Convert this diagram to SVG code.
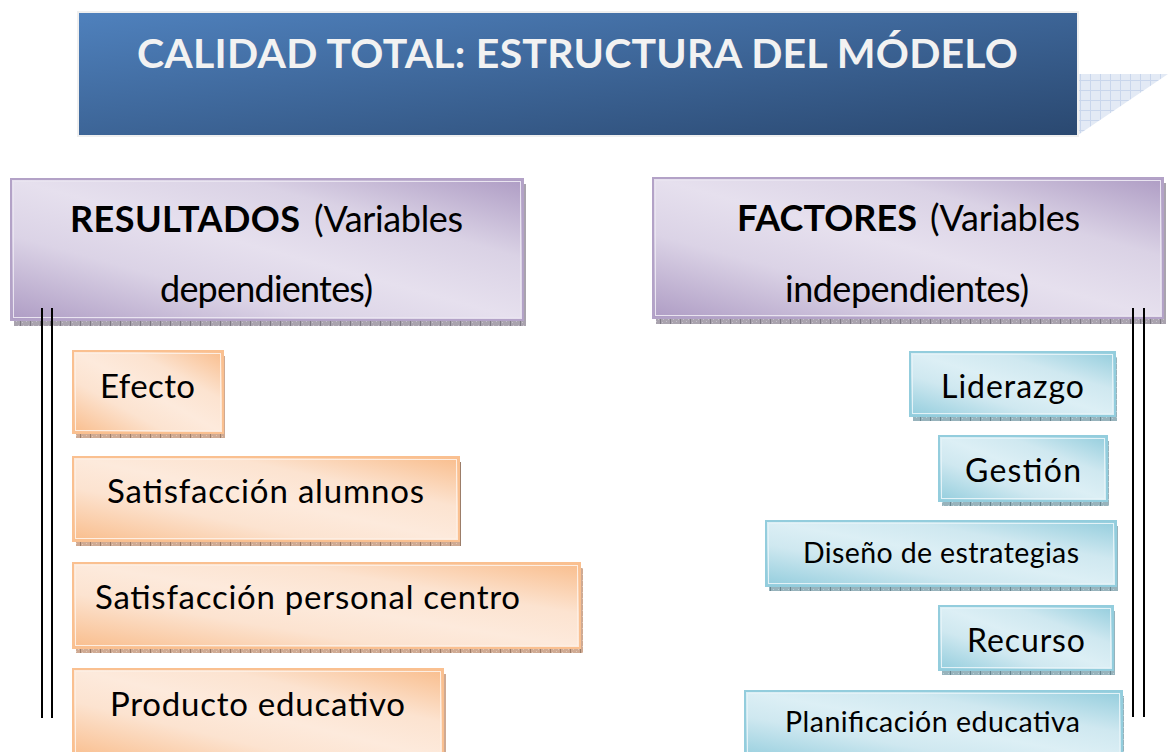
<svg xmlns="http://www.w3.org/2000/svg" width="1169" height="752" viewBox="0 0 1169 752">
<defs>
<linearGradient id="gTitle" x1="0" y1="0" x2="1" y2="1">
<stop offset="0" stop-color="#4f81bd"/><stop offset="1" stop-color="#2a4870"/>
</linearGradient>
<linearGradient id="gPurple" x1="0" y1="1" x2="1" y2="0">
<stop offset="0" stop-color="#ae9cc4"/><stop offset="0.3" stop-color="#dbd3e6"/><stop offset="0.5" stop-color="#e6e0ee"/><stop offset="0.72" stop-color="#dad2e5"/><stop offset="1" stop-color="#ae9cc4"/>
</linearGradient>
<linearGradient id="gOrange" x1="0" y1="1" x2="1" y2="0">
<stop offset="0" stop-color="#f9bd8c"/><stop offset="0.32" stop-color="#fce3d0"/><stop offset="0.5" stop-color="#fdeadc"/><stop offset="0.7" stop-color="#fce3d0"/><stop offset="1" stop-color="#f9bd8c"/>
</linearGradient>
<linearGradient id="gBlue" x1="0" y1="1" x2="1" y2="0">
<stop offset="0" stop-color="#93cddd"/><stop offset="0.32" stop-color="#cfe8f0"/><stop offset="0.5" stop-color="#dcEff5"/><stop offset="0.7" stop-color="#cfe8f0"/><stop offset="1" stop-color="#93cddd"/>
</linearGradient>
<pattern id="pGrid" width="10" height="10" patternUnits="userSpaceOnUse">
<rect width="10" height="10" fill="#e3eaf5"/>
<path d="M0 0.5H10M0.5 0V10" stroke="#c9d6ec" stroke-width="1"/>
</pattern>
<pattern id="pShPurple" width="10" height="6" patternUnits="userSpaceOnUse">
<rect width="10" height="6" fill="#a9a3ae"/>
<path d="M0.5 0V6" stroke="#7f7a85" stroke-width="1"/>
<path d="M3 1.5h1M6 3.5h1M8 1.5h1M2 4.5h1" stroke="#c6c0cb" stroke-width="1"/>
</pattern>
<pattern id="pShOrange" width="10" height="6" patternUnits="userSpaceOnUse">
<rect width="10" height="6" fill="#cfaa93"/>
<path d="M0.5 0V6" stroke="#9c7d69" stroke-width="1"/>
<path d="M3 1.5h1M6 3.5h1M8 1.5h1M2 4.5h1" stroke="#e2c7b5" stroke-width="1"/>
</pattern>
<pattern id="pShBlue" width="10" height="6" patternUnits="userSpaceOnUse">
<rect width="10" height="6" fill="#97b3bc"/>
<path d="M0.5 0V6" stroke="#6a8791" stroke-width="1"/>
<path d="M3 1.5h1M6 3.5h1M8 1.5h1M2 4.5h1" stroke="#b8cfd6" stroke-width="1"/>
</pattern>
</defs>
<style>
text{font-family:Lato,"Liberation Sans",sans-serif;fill:#000}
.b{font-weight:bold}
.title{font-weight:bold;font-size:41px;fill:#f2f2f2}
.hdr{font-size:36px}
.ob{font-size:33px}
.bb{font-size:32px}
.bs{font-size:28.5px}
.pur{fill:url(#gPurple);stroke:#b3a2c7;stroke-width:2}
.ora{fill:url(#gOrange);stroke:#fac090;stroke-width:2}
.blu{fill:url(#gBlue);stroke:#93cddd;stroke-width:2}
.inP{fill:none;stroke:#e9e4f0;stroke-width:1}
.inO{fill:none;stroke:#fdeee2;stroke-width:1}
.inB{fill:none;stroke:#e3f2f7;stroke-width:1}
.line{stroke:#000;stroke-width:2;fill:none}
</style>
<rect width="1169" height="752" fill="#fff"/>

<g id="title">
<polygon points="1078,74 1168,74 1078,135" fill="url(#pGrid)"/>
<rect x="78" y="12" width="1000" height="124" fill="url(#gTitle)" stroke="#efefef" stroke-width="2"/>
<text class="title" x="137" y="68" textLength="881">CALIDAD TOTAL: ESTRUCTURA DEL MÓDELO</text>
</g>

<g id="resultados">
<rect x="14" y="184" width="512" height="142" fill="url(#pShPurple)"/>
<rect class="pur" x="11" y="179" width="512" height="141"/>
<rect class="inP" x="13.5" y="181.5" width="507" height="136"/>
<text class="hdr b" x="70" y="232" textLength="230">RESULTADOS</text>
<text class="hdr" x="314" y="232" textLength="149">(Variables</text>
<text class="hdr" x="160" y="302" textLength="213">dependientes)</text>
</g>

<g id="factores">
<rect x="656" y="183" width="510" height="141" fill="url(#pShPurple)"/>
<rect class="pur" x="653" y="178" width="510" height="140"/>
<rect class="inP" x="655.5" y="180.5" width="505" height="135"/>
<text class="hdr b" x="737" y="231" textLength="180">FACTORES</text>
<text class="hdr" x="930" y="231" textLength="150">(Variables</text>
<text class="hdr" x="785" y="302" textLength="244">independientes)</text>
</g>

<g id="efecto">
<rect x="76" y="356" width="149" height="82" fill="url(#pShOrange)"/>
<rect class="ora" x="73" y="351" width="150" height="82"/>
<rect class="inO" x="75.5" y="353.5" width="145" height="77"/>
<text class="ob" x="100" y="398" textLength="95">Efecto</text>
</g>

<g id="satisfaccion-alumnos">
<rect x="76" y="462" width="385" height="84" fill="url(#pShOrange)"/>
<rect class="ora" x="73" y="457" width="386" height="84"/>
<rect class="inO" x="75.5" y="459.5" width="381" height="79"/>
<text class="ob" x="107" y="503" textLength="317">Satisfacción alumnos</text>
</g>

<g id="satisfaccion-personal">
<rect x="76" y="568" width="507" height="85" fill="url(#pShOrange)"/>
<rect class="ora" x="73" y="563" width="507" height="85"/>
<rect class="inO" x="75.5" y="565.5" width="502" height="80"/>
<text class="ob" x="95" y="609" textLength="425">Satisfacción personal centro</text>
</g>

<g id="producto-educativo">
<rect x="76" y="674" width="370" height="90" fill="url(#pShOrange)"/>
<rect class="ora" x="73" y="669" width="370" height="90"/>
<rect class="inO" x="75.5" y="671.5" width="365" height="85"/>
<text class="ob" x="110" y="716" textLength="295">Producto educativo</text>
</g>

<g id="liderazgo">
<rect x="913" y="357" width="204" height="64" fill="url(#pShBlue)"/>
<rect class="blu" x="910" y="352" width="205" height="64"/>
<rect class="inB" x="912.5" y="354.5" width="200" height="59"/>
<text class="bb" x="941" y="398" textLength="143">Liderazgo</text>
</g>

<g id="gestion">
<rect x="942" y="441" width="167" height="65" fill="url(#pShBlue)"/>
<rect class="blu" x="939" y="436" width="168" height="65"/>
<rect class="inB" x="941.5" y="438.5" width="163" height="60"/>
<text class="bb" x="965" y="482" textLength="116">Gestión</text>
</g>

<g id="diseno">
<rect x="769" y="526" width="349" height="65" fill="url(#pShBlue)"/>
<rect class="blu" x="766" y="521" width="350" height="65"/>
<rect class="inB" x="768.5" y="523.5" width="345" height="60"/>
<text class="bs" x="803" y="563" textLength="276">Diseño de estrategias</text>
</g>

<g id="recurso">
<rect x="942" y="611" width="173" height="64" fill="url(#pShBlue)"/>
<rect class="blu" x="939" y="606" width="174" height="64"/>
<rect class="inB" x="941.5" y="608.5" width="169" height="59"/>
<text class="bb" x="967" y="652" textLength="118">Recurso</text>
</g>

<g id="planificacion">
<rect x="748" y="696" width="376" height="70" fill="url(#pShBlue)"/>
<rect class="blu" x="745" y="691" width="377" height="70"/>
<rect class="inB" x="747.5" y="693.5" width="372" height="65"/>
<text class="bs" x="785" y="732" textLength="295">Planificación educativa</text>
</g>

<g id="connectors">
<path class="line" d="M42 308V718M52 308V718"/>
<path class="line" d="M1133 308V717M1144 308V717"/>
</g>
</svg>
